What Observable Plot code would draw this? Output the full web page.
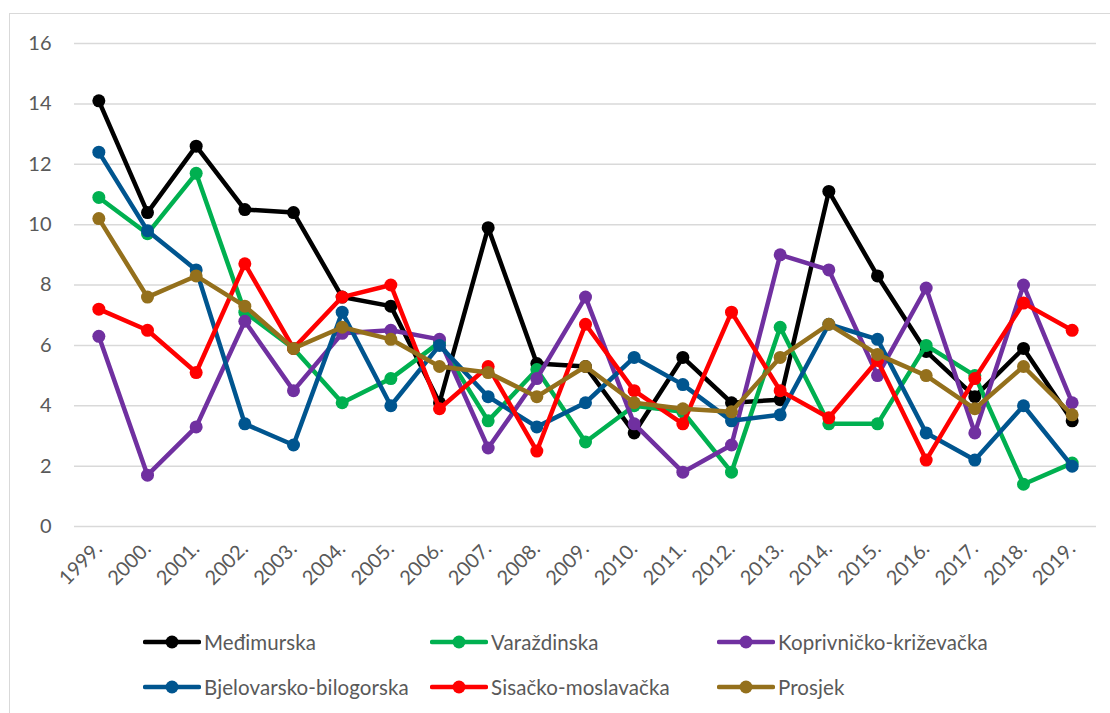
<!DOCTYPE html>
<html><head><meta charset="utf-8">
<script src="https://cdn.jsdelivr.net/npm/d3@7"></script>
<script src="https://cdn.jsdelivr.net/npm/@observablehq/plot@0.6"></script>
<style>
body{margin:0;background:#fff;font-family:Lato, sans-serif;}
#wrap{position:relative;width:1110px;height:713px;overflow:hidden;background:#fff;}
#frame{position:absolute;left:9px;top:13px;width:1200px;height:800px;border:1.5px solid #d9d9d9;box-sizing:border-box;}
#chart{position:absolute;left:0;top:0;}
.leg{position:absolute;display:flex;align-items:center;font-size:20.5px;letter-spacing:0.1px;color:#595959;white-space:nowrap;line-height:1;}
.leg svg{margin-right:3px;}
</style></head><body>
<div id="wrap"><div id="frame"></div><div id="chart"></div><div id="legend"></div></div>
<script>
const years = ["1999.","2000.","2001.","2002.","2003.","2004.","2005.","2006.","2007.","2008.","2009.","2010.","2011.","2012.","2013.","2014.","2015.","2016.","2017.","2018.","2019."];
const yTicks = [0, 2, 4, 6, 8, 10, 12, 14, 16];

const seriesNames = ["Međimurska","Varaždinska","Koprivničko-križevačka","Bjelovarsko-bilogorska","Sisačko-moslavačka","Prosjek"];
const seriesColors = ["#000000","#00B050","#7030A0","#00558F","#FF0000","#94701C"];

const medimurska   = [14.1,10.4,12.6,10.5,10.4,7.6,7.3,4.1,9.9,5.4,5.3,3.1,5.6,4.1,4.2,11.1,8.3,5.8,4.3,5.9,3.5];
const varazdinska  = [10.9,9.7,11.7,7.1,5.9,4.1,4.9,6.1,3.5,5.2,2.8,4.0,3.8,1.8,6.6,3.4,3.4,6.0,5.0,1.4,2.1];
const koprivnicko  = [6.3,1.7,3.3,6.8,4.5,6.4,6.5,6.2,2.6,4.9,7.6,3.4,1.8,2.7,9.0,8.5,5.0,7.9,3.1,8.0,4.1];
const bjelovarsko  = [12.4,9.8,8.5,3.4,2.7,7.1,4.0,6.0,4.3,3.3,4.1,5.6,4.7,3.5,3.7,6.7,6.2,3.1,2.2,4.0,2.0];
const sisacko      = [7.2,6.5,5.1,8.7,5.9,7.6,8.0,3.9,5.3,2.5,6.7,4.5,3.4,7.1,4.5,3.6,5.5,2.2,4.9,7.4,6.5];
const prosjek      = [10.2,7.6,8.3,7.3,5.9,6.6,6.2,5.3,5.1,4.3,5.3,4.1,3.9,3.8,5.6,6.7,5.7,5.0,3.9,5.3,3.7];

const seriesValues = [medimurska, varazdinska, koprivnicko, bjelovarsko, sisacko, prosjek];

const seriesMarks = seriesNames.flatMap((name, s) => {
  const data = years.map((year, i) => ({year, value: seriesValues[s][i], name}));
  return [
    Plot.line(data, {x: "year", y: "value", stroke: seriesColors[s], strokeWidth: 4.5, strokeLinejoin: "round", strokeLinecap: "round"}),
    Plot.dot(data, {x: "year", y: "value", r: 6.5, fill: seriesColors[s], stroke: "none"})
  ];
});

const chart = Plot.plot({
  width: 1110,
  height: 600,
  marginLeft: 74,
  marginRight: 14,
  marginTop: 43,
  marginBottom: 74,
  style: {fontFamily: "Lato, sans-serif", fontSize: "20px", color: "#595959", background: "transparent", overflow: "visible"},
  x: {type: "point", domain: years, padding: 0.5, round: false},
  y: {domain: [0, 16]},
  marks: [
    Plot.gridY(yTicks, {stroke: "#d9d9d9", strokeOpacity: 1, strokeWidth: 1.5}),
    Plot.axisY(yTicks, {tickSize: 0, tickPadding: 23, label: null, fill: "#595959"}),
    Plot.axisX({tickSize: 0, tickRotate: -45, tickPadding: 19, label: null, fill: "#595959"}),
    ...seriesMarks
  ]
});
document.getElementById("chart").appendChild(chart);

// legend
const legendPos = [
  [143, 642], [430, 642], [717, 642],
  [143, 687], [430, 687], [717, 687]
];
const legend = document.getElementById("legend");
seriesNames.forEach((name, i) => {
  const d = document.createElement("div");
  d.className = "leg";
  d.style.left = legendPos[i][0] + "px";
  d.style.top = (legendPos[i][1] - 12) + "px";
  d.style.height = "24px";
  const c = seriesColors[i];
  d.innerHTML = `<svg width="58" height="24"><line x1="2" y1="12" x2="56" y2="12" stroke="${c}" stroke-width="4.5" stroke-linecap="round"/><circle cx="29" cy="12" r="6.5" fill="${c}"/></svg><span>${name}</span>`;
  legend.appendChild(d);
});
</script>
</body></html>
